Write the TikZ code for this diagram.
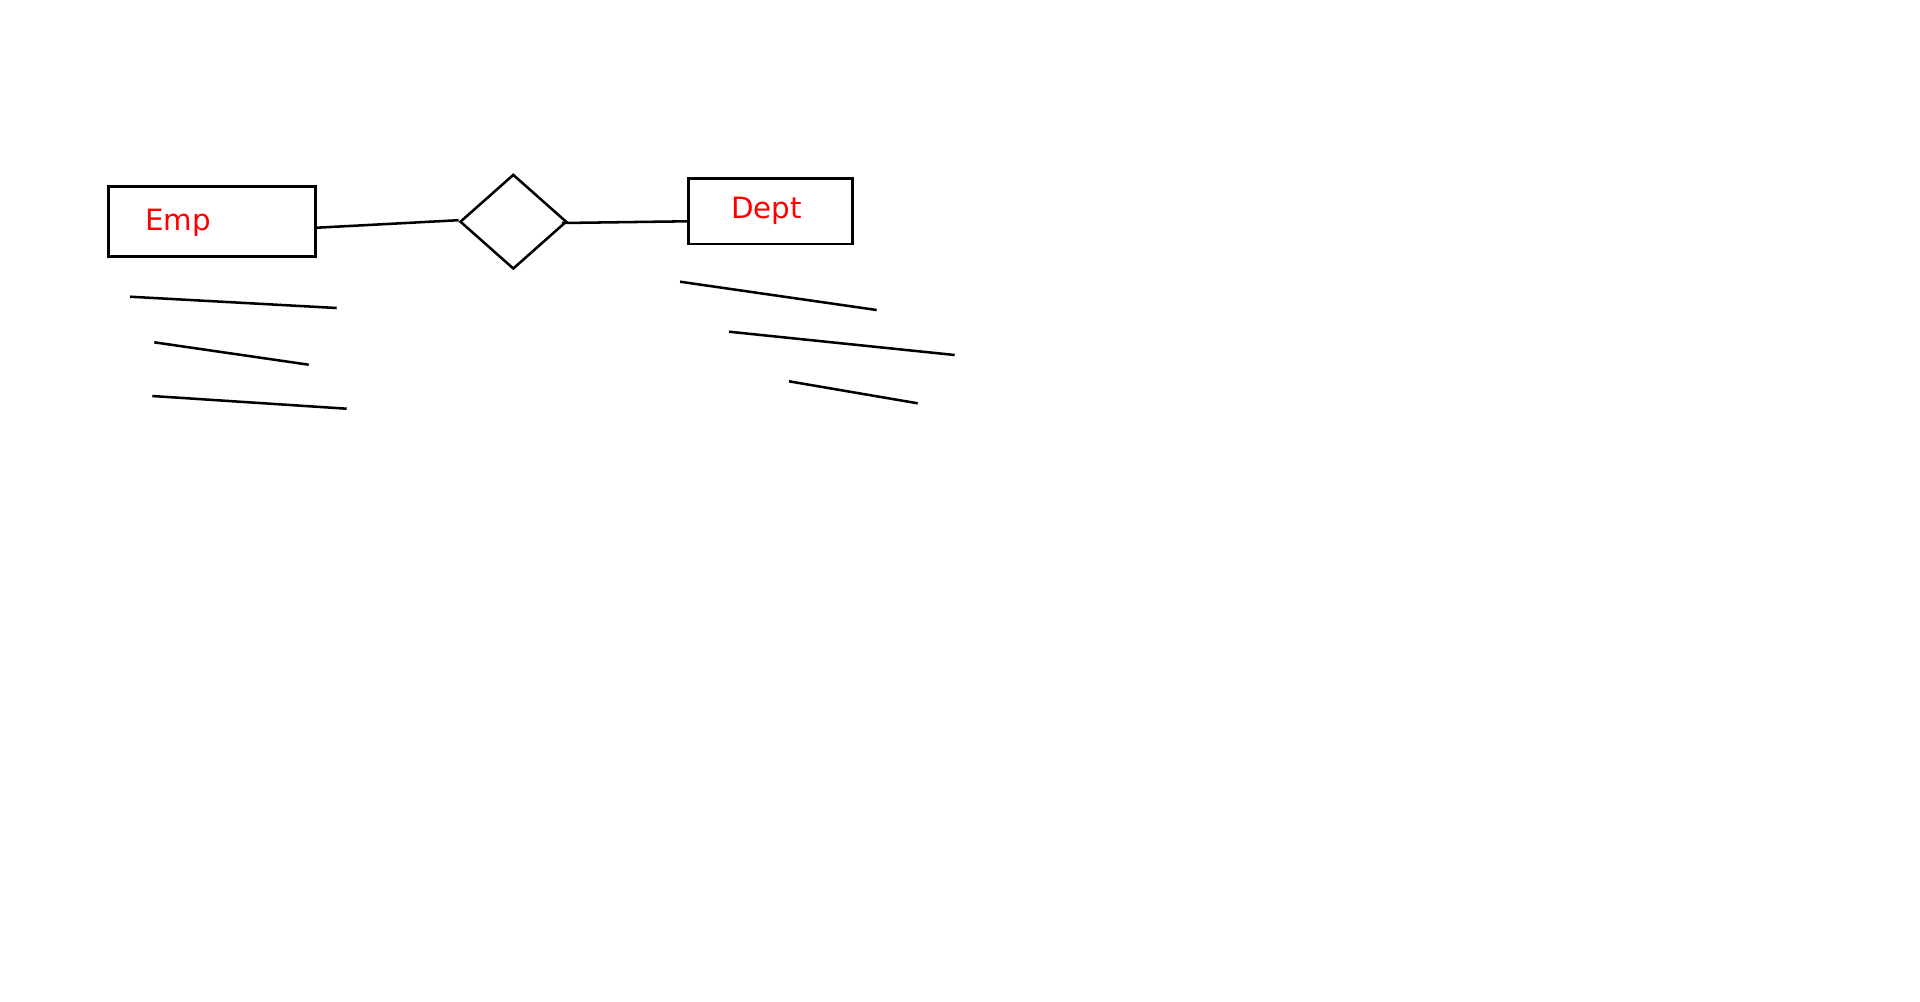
\documentclass[tikz,border=0pt]{standalone}
\usepackage{fontspec}
\setmainfont{DejaVu Sans}
\usetikzlibrary{shapes.geometric,calc}
\begin{document}
\begin{tikzpicture}[x=0.75pt,y=-0.75pt,
  ln/.style={line width=1.9pt,black},
  entity/.style={draw,ln,rectangle,inner sep=0pt},
  lbl/.style={text=red,font=\fontsize{22}{26}\selectfont,inner sep=0pt,anchor=base west},
  rel/.style={draw,ln,diamond,inner sep=0pt,minimum width=80pt,minimum height=71pt}]
\useasboundingbox (0,0) rectangle (1920,1001);
\fill[white] (0,0) rectangle (1920,1001);
% entities
\node[entity,minimum width=155.5pt,minimum height=52.5pt] (emp) at (212,221.7) {};
\node[lbl] (emptxt) at (145,230) {Emp};
\node[entity,minimum width=123pt,minimum height=49pt] (dept) at (770.3,211.3) {};
\node[lbl] (depttxt) at (731,218.3) {Dept};
% relationship
\node[rel] (dia) at (513.3,221.7) {};
% connectors
\draw[ln] ($(emp.east)+(0,6)$) -- ($(dia.west)+(0,-1.5)$);
\draw[ln] ($(dia.east)+(-6,1.3)$) -- ($(dept.west)+(0,10)$);
% attribute lines
\draw[ln] (130,296.7) -- (336.7,308);
\draw[ln] (154.3,342.3) -- (308.7,364.7);
\draw[ln] (152.3,396) -- (346.7,408.7);
\draw[ln] (680,281.7) -- (876.7,310);
\draw[ln] (729,331.7) -- (954.7,355);
\draw[ln] (789,381.3) -- (917.7,403.3);
\end{tikzpicture}
\end{document}
